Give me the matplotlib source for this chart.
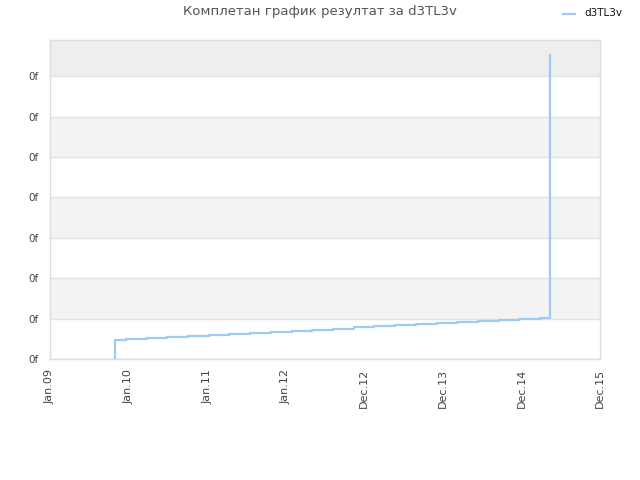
import datetime as dt
import numpy as np
import matplotlib
matplotlib.use('Agg')
import matplotlib.pyplot as pl
import matplotlib.dates as mdates

#--------------------------------------------------------------------------------------------
# data (y in gridline units, labels on the axis are all "0f")

dates = ['2009-10-28', '2009-10-28', '2009-12-20', '2010-03-26', '2010-06-30', '2010-10-04',
         '2011-01-10', '2011-04-13', '2011-07-18', '2011-10-24', '2012-01-29', '2012-05-03',
         '2012-08-06', '2012-11-13', '2013-02-14', '2013-05-23', '2013-08-28', '2013-12-02',
         '2014-03-08', '2014-06-12', '2014-09-18', '2014-12-20', '2015-03-27',
         '2015-05-13', '2015-05-13', '2015-05-13', '2015-05-13', '2015-05-13']
values = [0.0, 0.470, 0.495, 0.527, 0.552, 0.577,
          0.601, 0.626, 0.651, 0.676, 0.700, 0.725,
          0.755, 0.785, 0.809, 0.834, 0.859, 0.884,
          0.908, 0.933, 0.958, 0.983, 1.007,
          1.485, 2.995, 4.010, 5.495, 7.525]

seriesName = 'd3TL3v'
title = 'Комплетан график резултат за d3TL3v'

xStart = dt.datetime(2009, 1, 1)
xEnd = dt.datetime(2015, 12, 31)
yMax = 7.9
yTicks = [0, 1, 2, 3, 4, 5, 6, 7]

#--------------------------------------------------------------------------------------------

pl.rcParams['font.family'] = ['DejaVu Sans']

fig1 = pl.figure(figsize=(6.4, 4.8), dpi=100)
ax11 = fig1.add_axes([50/640., 121/480., 550/640., 319/480.])

x = [dt.datetime.strptime(d, '%Y-%m-%d') for d in dates]

# alternating bands
for j in range(len(yTicks)):
    lo = yTicks[j]
    hi = yTicks[j+1] if j+1 < len(yTicks) else yMax
    if j % 2 == 1:
        col = '#eeeeee' if j == len(yTicks)-1 else '#f3f3f3'
        ax11.axhspan(lo, hi, color=col, lw=0, zorder=0)

ax11.grid(axis='y', color='#e2e2e2', lw=1., zorder=1)
ax11.set_axisbelow(True)

ax11.plot(x, values, drawstyle='steps-post', color='#9ecaf4', lw=1.6, zorder=3)

ax11.set_xlim(xStart, xEnd)
ax11.set_ylim(0., yMax)

xt = np.linspace(mdates.date2num(xStart), mdates.date2num(xEnd), 8)
ax11.set_xticks(xt)
ax11.set_xticklabels([mdates.num2date(t).strftime('%b.%y') for t in xt],
                     rotation=90, fontsize=8, color='#444444')
ax11.set_yticks(yTicks)
ax11.set_yticklabels(['0f'] * len(yTicks), fontsize=7.5, color='#444444')
ax11.tick_params(length=0, pad=8)
ax11.tick_params(axis='x', pad=7)

for s in ax11.spines.values():
    s.set_color('#dddddd')
    s.set_linewidth(1.)

fig1.text(320/640., 1 - 12/480., title, ha='center', va='center', fontsize=9.5, color='#555555')

fig1.add_artist(pl.Line2D([563/640., 575/640.], [1 - 14/480., 1 - 14/480.],
                          color='#9ecaf4', lw=1.6, transform=fig1.transFigure))
fig1.text(584/640., 1 - 13/480., seriesName, ha='left', va='center', fontsize=7.5, color='#111111')

fig1.savefig('out.png', dpi=100)
